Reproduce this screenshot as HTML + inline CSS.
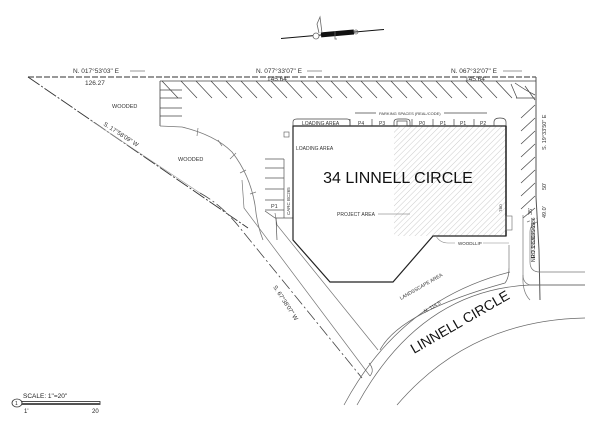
<!DOCTYPE html>
<html><head><meta charset="utf-8"><style>
html,body{margin:0;padding:0;background:#fff;}
svg{display:block;font-family:"Liberation Sans",sans-serif;}
</style></head><body>
<svg width="600" height="423" viewBox="0 0 600 423" xmlns="http://www.w3.org/2000/svg">
<defs>
<pattern id="h" width="4" height="4" patternUnits="userSpaceOnUse" patternTransform="rotate(45)">
<line x1="0" y1="0" x2="0" y2="4" stroke="#aaa" stroke-width="0.6"/>
</pattern>
</defs>
<rect width="600" height="423" fill="#fff"/>
<!-- north arrow -->
<polygon points="281,38 384,29 384,30 281,39" fill="#111"/>
<rect x="321" y="31" width="33" height="5" fill="#111" transform="rotate(-5 337 34)"/>
<path d="M319,33 L317,24 L320,17 L322,33" fill="none" stroke="#666" stroke-width="0.8"/>
<circle cx="316" cy="36" r="3" fill="#fff" stroke="#666" stroke-width="0.8"/>
<path d="M335,31 v8 h2" fill="none" stroke="#666" stroke-width="0.8"/>
<circle cx="356" cy="32" r="2" fill="none" stroke="#666" stroke-width="0.7"/>

<!-- top boundary -->
<line x1="28" y1="77" x2="536" y2="77" stroke="#777" stroke-width="1.4" stroke-dasharray="6,2"/>
<g font-size="6.5" fill="#333">
<text x="73" y="73">N. 017°53'03"  E</text><line x1="130" y1="71" x2="145" y2="71" stroke="#333" stroke-width="0.5"/>
<text x="256" y="73">N. 077°33'07"  E</text><line x1="307" y1="71" x2="322" y2="71" stroke="#333" stroke-width="0.5"/>
<text x="451" y="73">N. 067°32'07"  E</text><line x1="503" y1="71" x2="522" y2="71" stroke="#333" stroke-width="0.5"/>
<text x="85" y="85">126.27</text>
<text x="267" y="81">145.64'</text>
<text x="465" y="81">145.64'</text>
</g>
<!-- right boundary -->
<polyline points="536,77 536,197 539,250 540,300" fill="none" stroke="#555" stroke-width="1"/>
<!-- west diagonal -->
<line x1="28" y1="77" x2="248" y2="228" stroke="#333" stroke-width="0.9" stroke-dasharray="14,2,2,2"/>
<line x1="90" y1="120" x2="200" y2="193" stroke="#999" stroke-width="0.6"/>
<path d="M200,193 Q222,205 240,228 L362,378" fill="none" stroke="#444" stroke-width="0.8" stroke-dasharray="12,3,2,3"/>
<path d="M242,180 L244,208 L370,376" fill="none" stroke="#777" stroke-width="0.7"/>
<path d="M275,213 L277,225 L378,350" fill="none" stroke="#777" stroke-width="0.7"/>
<text x="0" y="0" font-size="6" fill="#333" transform="translate(103,125) rotate(33)">S. 17°58'09"  W</text>
<text x="0" y="0" font-size="6" fill="#333" transform="translate(273,287) rotate(57)">S. 67°38'07"  W</text>

<!-- parking strip hatching -->
<g stroke="#444" stroke-width="0.8">
<line x1="160" y1="81" x2="160" y2="126"/>
<line x1="160" y1="81" x2="536" y2="81"/>
<line x1="160" y1="90" x2="182" y2="90"/><line x1="160" y1="98" x2="182" y2="98"/>
<line x1="160" y1="108" x2="182" y2="108"/><line x1="160" y1="116" x2="182" y2="116"/>
</g>
<g stroke="#444" stroke-width="0.7" id="hs">
<line x1="162" y1="81" x2="178" y2="98"/>
<line x1="181" y1="81" x2="197" y2="98"/><line x1="196" y1="81" x2="212" y2="98"/>
<line x1="211" y1="81" x2="227" y2="98"/><line x1="226" y1="81" x2="242" y2="98"/>
<line x1="241" y1="81" x2="257" y2="98"/><line x1="256" y1="81" x2="272" y2="98"/>
<line x1="271" y1="81" x2="287" y2="98"/><line x1="286" y1="81" x2="302" y2="98"/>
<line x1="301" y1="81" x2="317" y2="98"/><line x1="316" y1="81" x2="332" y2="98"/>
<line x1="331" y1="81" x2="347" y2="98"/><line x1="346" y1="81" x2="362" y2="98"/>
<line x1="361" y1="81" x2="377" y2="98"/><line x1="376" y1="81" x2="392" y2="98"/>
<line x1="391" y1="81" x2="407" y2="98"/><line x1="406" y1="81" x2="422" y2="98"/>
<line x1="421" y1="81" x2="437" y2="98"/><line x1="436" y1="81" x2="452" y2="98"/>
<line x1="451" y1="81" x2="467" y2="98"/><line x1="466" y1="81" x2="482" y2="98"/>
<line x1="481" y1="81" x2="497" y2="98"/><line x1="496" y1="81" x2="512" y2="98"/>
<line x1="511" y1="84" x2="517" y2="98"/>
<path d="M515,83 Q525,90 535,95 M525,86 L535,100 M516,98 L535,98" fill="none"/>
</g>
<g stroke="#444" stroke-width="0.7">
<line x1="535" y1="105" x2="521" y2="118"/><line x1="535" y1="118" x2="521" y2="131"/>
<line x1="535" y1="131" x2="521" y2="144"/><line x1="535" y1="144" x2="521" y2="157"/>
<line x1="535" y1="157" x2="521" y2="170"/><line x1="535" y1="170" x2="521" y2="183"/>
<line x1="535" y1="183" x2="521" y2="196"/><line x1="535" y1="196" x2="521" y2="209"/>
<line x1="535" y1="208" x2="523" y2="218"/>
</g>
<g font-size="5.5" fill="#333">
<text x="0" y="0" transform="translate(546,150) rotate(-90)">S. 19°33'50" E</text>
<text x="0" y="0" transform="translate(546,190) rotate(-90)">50'</text>
<text x="0" y="0" transform="translate(546,218) rotate(-90)">49.0'</text>
<text x="0" y="0" transform="translate(532,215) rotate(-90)">35'</text>
<text x="0" y="0" transform="translate(535,258) rotate(-90)">RD 1'33C/D65</text>
</g>

<!-- wooded curve -->
<path d="M160,126 L182,127 Q215,135 232,152 Q250,175 255,205 Q257,225 263,240" fill="none" stroke="#777" stroke-width="0.8"/>
<g stroke="#777" stroke-width="0.7">
<line x1="198" y1="128" x2="197" y2="136"/><line x1="218" y1="140" x2="222" y2="146"/>
<line x1="230" y1="159" x2="236" y2="153"/><line x1="240" y1="173" x2="246" y2="170"/>
<line x1="250" y1="194" x2="256" y2="192"/>
</g>
<g font-size="5.5" fill="#333">
<text x="112" y="108">WOODED</text>
<text x="178" y="161">WOODED</text>
</g>

<!-- parking left of building -->
<g stroke="#555" stroke-width="0.7" fill="none">
<line x1="265" y1="159" x2="284" y2="159"/><line x1="265" y1="168" x2="284" y2="168"/>
<line x1="265" y1="178" x2="284" y2="178"/><line x1="265" y1="189" x2="284" y2="189"/>
<line x1="265" y1="200" x2="284" y2="200"/><line x1="265" y1="210" x2="284" y2="210"/>
<line x1="284" y1="159" x2="284" y2="218"/>
<line x1="265" y1="211" x2="275" y2="218"/><line x1="275" y1="218" x2="293" y2="218"/>
<line x1="276" y1="218" x2="277" y2="240"/>
</g>
<text x="271" y="208" font-size="5.5" fill="#333">P1</text>
<text x="0" y="0" font-size="4.5" fill="#333" transform="translate(290,215) rotate(-90)">CARC BC265</text>
<rect x="284" y="132" width="5" height="5" fill="none" stroke="#555" stroke-width="0.6"/>

<!-- building -->
<rect x="394" y="126" width="112" height="110" fill="url(#h)"/>
<polygon points="293,126 506,126 506,236 433,236 393,282 330,282 293,240" fill="none" stroke="#222" stroke-width="1.2"/>
<line x1="506" y1="126" x2="506" y2="236" stroke="#222" stroke-width="1.4"/>
<rect x="506" y="216" width="6" height="14" fill="none" stroke="#666" stroke-width="0.6"/>
<!-- top tabs -->
<g stroke="#444" stroke-width="0.7" fill="none">
<path d="M293,126 V122 Q293,119 297,119 H347 Q350,119 350,122 V126"/>
<line x1="350" y1="119" x2="350" y2="126"/><line x1="372" y1="119" x2="372" y2="126"/>
<path d="M394,126 V122 Q394,119 398,119 H406 Q410,119 410,122 V126"/>
<line x1="412" y1="119" x2="412" y2="126"/><line x1="433" y1="119" x2="433" y2="126"/>
<line x1="454" y1="119" x2="454" y2="126"/><line x1="474" y1="119" x2="474" y2="126"/>
<path d="M494,126 V122 Q494,118 500,118 Q506,118 506,122 V126"/>
<rect x="397" y="121" width="10" height="5"/>
<line x1="355" y1="113" x2="376" y2="113"/><line x1="444" y1="113" x2="487" y2="113"/>
</g>
<g font-size="5" fill="#333">
<text x="302" y="125">LOADING AREA</text>
<text x="358" y="125">P4</text><text x="379" y="125">P3</text>
<text x="419" y="125">P0</text><text x="440" y="125">P1</text>
<text x="460" y="125">P1</text><text x="480" y="125">P2</text>
<text x="379" y="115" font-size="4">PARKING SPACES (REAL/CODE)</text>
<text x="296" y="150">LOADING AREA</text>
<text x="337" y="216">PROJECT AREA</text>
<text x="0" y="0" font-size="4" transform="translate(502,212) rotate(-90)">TBD</text>
<text x="458" y="245" font-size="4.5">WOODLLIP</text>
</g>
<line x1="378" y1="214" x2="410" y2="214" stroke="#666" stroke-width="0.5"/>
<text x="398" y="183" font-size="16" fill="#111" text-anchor="middle">34 LINNELL CIRCLE</text>
<path d="M436,236 Q440,243 448,243 H455 M483,243 H509" fill="none" stroke="#888" stroke-width="0.6"/>

<!-- right side curb -->
<g stroke="#777" stroke-width="0.7" fill="none">
<line x1="509" y1="245" x2="509" y2="268"/>
<path d="M523,215 V275 Q523,283 530,285 H585"/>
<path d="M537,222 Q530,225 530,232 V262 Q530,272 540,272 H585"/>
<path d="M527,222 L537,218" stroke-dasharray="3,2"/>
<path d="M523,275 Q522,292 530,300"/>
</g>
<text x="0" y="0" font-size="5" fill="#333" transform="translate(535,262) rotate(-90)">ND 1'33C/D65 1986</text>

<!-- road arcs -->
<g fill="none" stroke="#666" stroke-width="0.7">
<path d="M344,405 Q400,300 510,272"/>
<path d="M357,405 Q420,290 530,285 H585"/>
<path d="M397,405 Q470,320 585,318"/>
<path d="M380,350 Q400,312 505,283 Q509,278 509,268"/>
<path d="M370,376 Q375,370 369,363"/>
</g>
<text x="0" y="0" font-size="5" fill="#333" transform="translate(401,300) rotate(-30)">LANDSSCAPE AREA</text>
<text x="0" y="0" font-size="5" fill="#333" transform="translate(425,313) rotate(-30)">N. 114.5'</text>
<text x="0" y="0" font-size="14" fill="#111" transform="translate(414,354) rotate(-30)">LINNELL CIRCLE</text>

<!-- scale -->
<text x="23" y="398" font-size="6.5" fill="#222">SCALE:  1"=20"</text>
<ellipse cx="17" cy="403" rx="5" ry="4" fill="#fff" stroke="#333" stroke-width="0.8"/>
<text x="15" y="405" font-size="5" fill="#222">1</text>
<rect x="22" y="401.5" width="78" height="3" fill="#fff" stroke="#222" stroke-width="0.8"/>
<rect x="22" y="403" width="78" height="1.5" fill="#555"/>
<text x="24" y="413" font-size="6" fill="#222">1'</text>
<text x="92" y="413" font-size="6" fill="#222">20</text>
</svg>
</body></html>
